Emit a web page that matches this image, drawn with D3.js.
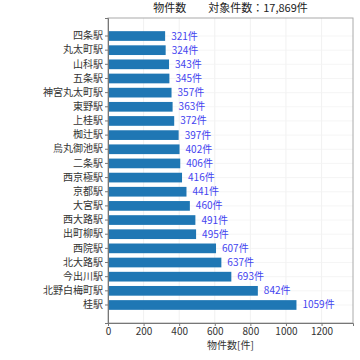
<!DOCTYPE html>
<html><head><meta charset="utf-8">
<script src="https://cdn.jsdelivr.net/npm/d3@7"></script>
<style>body{margin:0;background:#fff;} text{font-family:"Noto Sans CJK JP","Noto Sans",sans-serif;}</style>
</head><body><svg id="c" width="360" height="360"></svg>
<script>
const stations = ["四条駅","丸太町駅","山科駅","五条駅","神宮丸太町駅","東野駅","上桂駅","椥辻駅","烏丸御池駅","二条駅","西京極駅","京都駅","大宮駅","西大路駅","出町柳駅","西院駅","北大路駅","今出川駅","北野白梅町駅","桂駅"];
const counts = [321,324,343,345,357,363,372,397,402,406,416,441,460,491,495,607,637,693,842,1059];
const xTicks = [0,200,400,600,800,1000,1200];
const titleText = "物件数　　対象件数：17,869件";
const xLabel = "物件数[件]";

const svg = d3.select("#c");
const L=108, R=353, T=18, B=323;
const x = d3.scaleLinear().domain([0, d3.max(counts)*1.3]).range([L,R]);
const y = d3.scaleBand().domain(stations).range([T,B]).paddingInner(0.315).paddingOuter(0.93);

// grid
svg.append("g").selectAll("line").data(xTicks).join("line")
  .attr("x1",d=>x(d)).attr("x2",d=>x(d)).attr("y1",T).attr("y2",B)
  .attr("stroke","#eeeeee").attr("stroke-width",0.8);
svg.append("g").selectAll("line").data(stations).join("line")
  .attr("x1",L).attr("x2",R).attr("y1",d=>y(d)+y.bandwidth()/2).attr("y2",d=>y(d)+y.bandwidth()/2)
  .attr("stroke","#f2f2f2").attr("stroke-width",0.8);

// bars
svg.append("g").selectAll("rect").data(stations).join("rect")
  .attr("x",x(0)).attr("y",d=>y(d)).attr("height",y.bandwidth())
  .attr("width",(d,i)=>x(counts[i])-x(0)).attr("fill","#1f77b4");

// value labels
svg.append("g").selectAll("text").data(stations).join("text")
  .attr("x",(d,i)=>x(counts[i])+6).attr("y",d=>y(d)+y.bandwidth()/2)
  .attr("dy","0.35em").attr("font-size",10).attr("fill","#4444f0")
  .text((d,i)=>counts[i]+"件");

// frame
svg.append("rect").attr("x",L).attr("y",T).attr("width",R-L).attr("height",B-T)
  .attr("fill","none").attr("stroke","#aaaaaa").attr("stroke-width",1);

// axes
const xa = svg.append("g").attr("transform",`translate(0,${B})`)
  .call(d3.axisBottom(x).tickValues(xTicks).tickFormat(d3.format("d")).tickSize(3).tickPadding(2));
const ya = svg.append("g").attr("transform",`translate(${L},0)`)
  .call(d3.axisLeft(y).tickSize(3).tickPadding(2));
[xa,ya].forEach(a=>{
  a.select(".domain").attr("stroke","#777");
  a.selectAll(".tick line").attr("stroke","#777");
  a.selectAll("text").attr("font-size",10).attr("fill","#333")
   .style("font-family",'"Noto Sans CJK JP","Noto Sans",sans-serif');
});

svg.append("text").attr("x",(L+R)/2).attr("y",12).attr("text-anchor","middle")
  .attr("font-size",11).attr("fill","#222").text(titleText);
svg.append("text").attr("x",(L+R)/2).attr("y",349).attr("text-anchor","middle")
  .attr("font-size",10).attr("fill","#333").text(xLabel);
</script></body></html>
